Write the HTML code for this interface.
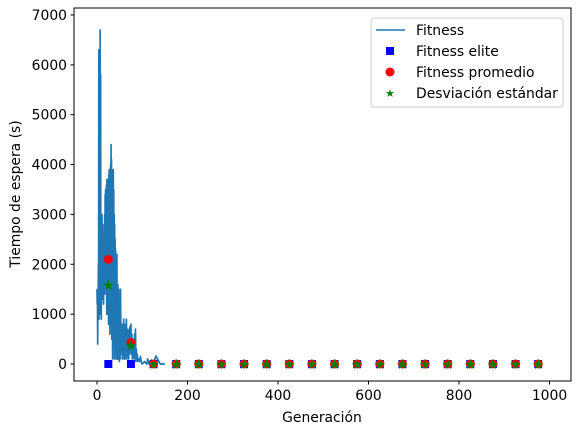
<!DOCTYPE html>
<html><head><meta charset="utf-8"><style>
html,body{margin:0;padding:0;background:#fff;}
svg text{font-family:"DejaVu Sans","Liberation Sans",sans-serif;font-size:13.9px;fill:#000;}
</style></head><body>
<svg id="chart" width="580" height="434" viewBox="0 0 580 434" xmlns="http://www.w3.org/2000/svg">
<rect x="0" y="0" width="580" height="434" fill="#fff"/>
<g id="plot"></g>
<rect x="74" y="8" width="497" height="373" fill="none" stroke="#000" stroke-width="1"/>
<g id="xticks"></g>
<g id="yticks"></g>
<text x="322" y="422" text-anchor="middle">Generación</text>
<text x="20" y="194" text-anchor="middle" transform="rotate(-90 20 194)">Tiempo de espera (s)</text>
<g>
<rect x="371" y="18" width="192" height="89" rx="3" fill="#fff" fill-opacity="0.8" stroke="#ccc"/>
<line x1="376" y1="30" x2="405" y2="30" stroke="#1f77b4" stroke-width="1.5"/>
<text x="416" y="35">Fitness</text>
<rect x="386" y="47" width="8" height="8" fill="#0000ff"/>
<text x="416" y="56">Fitness elite</text>
<circle cx="390" cy="72" r="4.5" fill="#ff0000"/>
<text x="416" y="77">Fitness promedio</text>
<text x="390" y="97" text-anchor="middle" style="font-size:11px;fill:#008000">★</text>
<text x="416" y="98">Desviación estándar</text>
</g>
</svg>
<script>
const lineGen = [0,0.5,1,1.5,2,2.5,3,3.5,4,4.5,5,5.5,6,6.5,7,7.5,8,8.5,9,9.5,10,10.5,11,11.5,12,12.5,13,13.5,14,14.5,15,15.5,16,16.5,17,17.5,18,18.5,19,19.5,20,20.5,21,21.5,22,22.5,23,23.5,24,24.5,25,25.5,26,26.5,27,27.5,28,28.5,29,29.5,30,30.5,31,31.5,32,32.5,33,33.5,34,34.5,35,35.5,36,36.5,37,37.5,38,38.5,39,39.5,40,40.5,41,41.5,42,42.5,43,43.5,44,44.5,45,45.5,46,46.5,47,47.5,48,48.5,49,49.5,50,51,52,53,54,55,56,57,58,59,60,61,62,63,64,65,66,67,68,69,70,71,72,73,74,75,76,77,78,79,80,81,82,83,84,85,86,87,88,89,90,92,94,96,98,100,105,110,112,115,120,125,130,140,142,144,150,200,1000];
const lineVal = [1500,1200,1400,400,1500,900,2000,1000,6300,900,6300,1200,6300,2000,6700,1000,5800,1500,3000,900,2900,1600,3000,1300,2800,1500,2500,1700,2600,1200,2400,1500,2800,1400,3000,2000,3400,1800,3500,2100,3500,1400,3600,1000,3700,1500,3500,1000,3700,2000,3600,800,3800,1500,3900,1200,3500,600,3800,1400,4000,1000,4400,800,4100,500,3900,1200,3600,100,3800,900,3900,400,3500,1200,3000,100,2800,800,2500,200,2300,600,2000,100,1900,300,2200,100,1500,400,1600,100,1200,200,1500,300,900,50,1000,100,1500,200,400,800,100,600,200,900,100,700,100,800,300,900,100,700,200,650,100,700,200,750,300,800,200,600,100,500,200,450,100,600,200,700,50,300,100,200,50,100,50,150,30,0,50,0,100,0,80,0,160,0,0,0,0];
const markGen = [25,75,125,175,225,275,325,375,425,475,525,575,625,675,725,775,825,875,925,975];
const eliteVal = [0,0,0,0,0,0,0,0,0,0,0,0,0,0,0,0,0,0,0,0];
const promVal = [2100,430,0,0,0,0,0,0,0,0,0,0,0,0,0,0,0,0,0,0];
const stdVal = [1580,380,0,0,0,0,0,0,0,0,0,0,0,0,0,0,0,0,0,0];
const xTicks = [0,200,400,600,800,1000];
const yTicks = [0,1000,2000,3000,4000,5000,6000,7000];

const NS="http://www.w3.org/2000/svg";
function xs(v){return 97+v*0.4525;}
function ys(v){return 364-v*0.04986;}
function mk(tag,attrs,parent){const e=document.createElementNS(NS,tag);for(const k in attrs)e.setAttribute(k,attrs[k]);parent.appendChild(e);return e;}
const plot=document.getElementById('plot');
let d='';
lineGen.forEach((g,i)=>{d+=(i?'L':'M')+xs(g).toFixed(2)+' '+ys(lineVal[i]).toFixed(2);});
const line=mk('path',{d:d,fill:'none',stroke:'#1f77b4','stroke-width':1.7,'stroke-linejoin':'round'},plot);


markGen.forEach((g,i)=>{
  const r=mk('rect',{x:xs(g)-4,y:ys(eliteVal[i])-4,width:8,height:8,fill:'#0000ff'},plot);
  
  
});
markGen.forEach((g,i)=>{
  const c=mk('circle',{cx:xs(g),cy:ys(promVal[i]),r:4.5,fill:'#ff0000'},plot);
  
  
});
markGen.forEach((g,i)=>{
  const t=mk('text',{x:xs(g),y:ys(stdVal[i])+5,'text-anchor':'middle',style:'font-size:14px;fill:#008000'},plot);
  t.textContent='★';
  
  
});
const xg=document.getElementById('xticks');
xTicks.forEach(v=>{
  const l=mk('line',{x1:xs(v),x2:xs(v),y1:381,y2:384.5,stroke:'#000'},xg);
  
  
  const t=mk('text',{x:xs(v),y:400,'text-anchor':'middle'},xg);
  t.textContent=v;
  
  
});
const yg=document.getElementById('yticks');
yTicks.forEach(v=>{
  const l=mk('line',{x1:70.5,x2:74,y1:ys(v),y2:ys(v),stroke:'#000'},yg);
  
  
  const t=mk('text',{x:67,y:ys(v)+5,'text-anchor':'end'},yg);
  t.textContent=v;
  
  
});
</script>
</body></html>
